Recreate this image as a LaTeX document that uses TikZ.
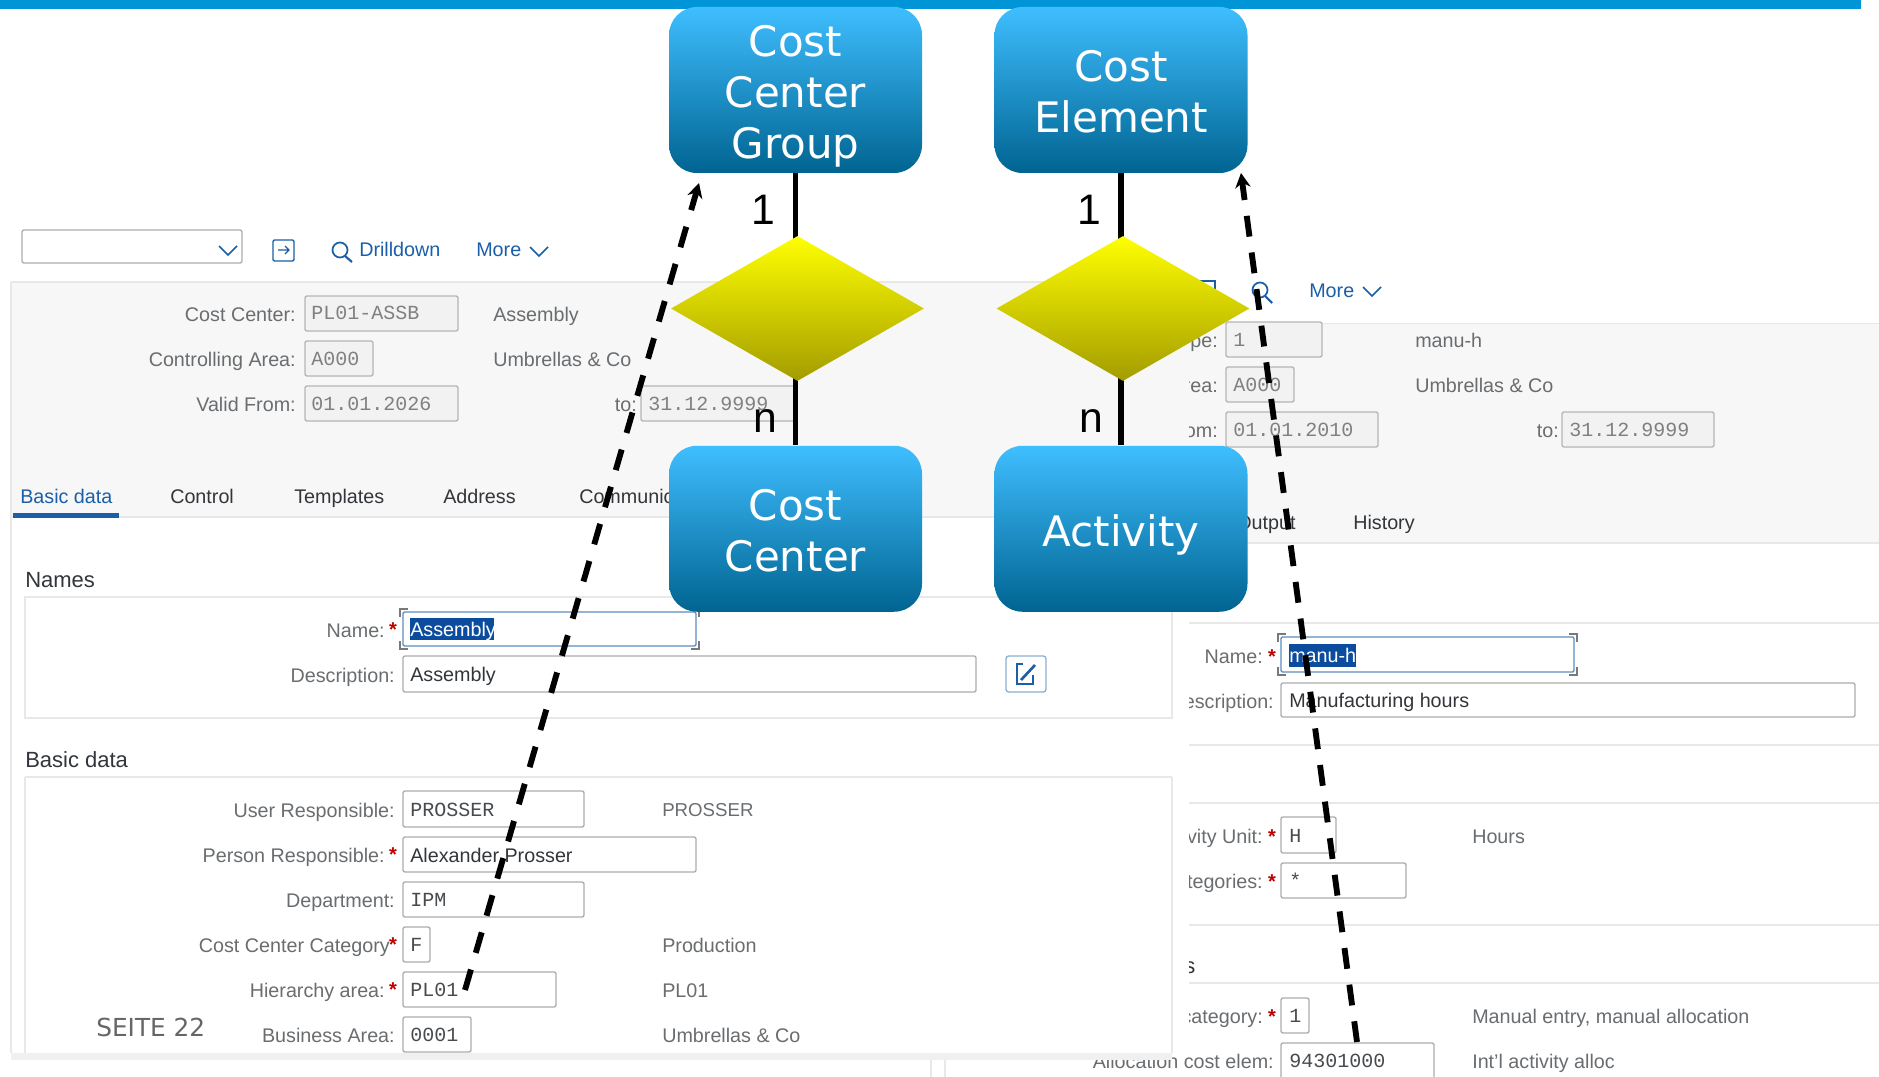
\documentclass[tikz,border=0pt]{standalone}
\usepackage{fontspec}
\setmainfont{Liberation Sans}
\setmonofont{Liberation Mono}
\newfontfamily\boxfont{DejaVu Sans}
\usetikzlibrary{shapes.geometric,arrows.meta}
\newlength\px \setlength\px{0.75pt}
\newcounter{nn}
\definecolor{labc}{HTML}{6A6D70}
\definecolor{darkc}{HTML}{32363A}
\definecolor{monoc}{HTML}{808080}
\definecolor{monod}{HTML}{484B4E}
\definecolor{linkc}{HTML}{1B5FA8}
\definecolor{bandc}{HTML}{F7F7F7}
\definecolor{rulec}{HTML}{E8E8E8}
\definecolor{fieldc}{HTML}{ADADAD}
\definecolor{barc}{HTML}{0095D6}
\definecolor{selc}{HTML}{0B4C9E}
\definecolor{focc}{HTML}{5B8DBF}
\tikzset{
  sap/.style={font=\fontsize{14.8}{18}\selectfont,inner sep=0pt},
  lab/.style={sap,text=labc},
  val/.style={sap,text=darkc},
  mono/.style={inner sep=0pt,font=\ttfamily\fontsize{15}{18}\selectfont,text=monod},
  romono/.style={mono,text=monoc},
  head/.style={inner sep=0pt,font=\fontsize{16.5}{20}\selectfont,text=darkc},
  link/.style={sap,text=linkc},
  star/.style={inner sep=0pt,font=\bfseries\fontsize{15}{18}\selectfont,text=red!75!black},
  wfield/.style={draw=fieldc,fill=white,line width=1pt,rounded corners=1.5pt},
  rofield/.style={draw=fieldc!90,fill=black!5,line width=1pt,rounded corners=1.5pt},
  focfield/.style={draw=focc,fill=white,line width=1.1pt,rounded corners=1pt},
  panel/.style={draw=rulec,line width=0.9pt},
  rulel/.style={draw=rulec,line width=0.9pt},
  ent/.style={rounded corners=28\px,minimum width=253\px,minimum height=166\px,inner sep=0pt,
    align=center,text=white,font=\boxfont\fontsize{31.5}{38.2}\selectfont,
    top color=entt,middle color=entm,bottom color=entb,shading angle=0},
  rel/.style={diamond,minimum width=253\px,minimum height=145\px,inner sep=0pt,
    top color=relt,middle color=relm,bottom color=relb},
  card/.style={inner sep=0pt,text=black,font=\fontsize{32}{38}\selectfont},
  conn/.style={line width=4.3pt,draw=black},
  dep/.style={line width=4.4pt,draw=black,-{Stealth[length=11pt,width=11.5pt]}},
  icon/.style={draw=linkc,line width=1pt},
}
\definecolor{entt}{HTML}{3FBEFF}
\definecolor{entm}{HTML}{009CDE}
\definecolor{entb}{HTML}{006491}
\definecolor{relt}{HTML}{FFFF00}
\definecolor{relm}{HTML}{E9E900}
\definecolor{relb}{HTML}{A39C00}
\newcommand{\FDY}{7}
\newcommand{\FL}[3]{\stepcounter{nn}\node[lab,anchor=base east] (n\thenn) at (#1,{#2+\FDY}) {#3};}
\newcommand{\FT}[4][lab]{\stepcounter{nn}\node[#1,anchor=base west] (n\thenn) at (#2,{#3+\FDY}) {#4};}
\newcommand{\FS}[2]{\stepcounter{nn}\node[star,anchor=base] (n\thenn) at (#1,{#2+6}) {*};}
\newcommand{\FB}[5][wfield]{\draw[#1] (#2,#3) rectangle (#4,#5);}
\newcommand{\CHEV}[3][linkc]{\draw[#1,line width=1.1pt] ({#2-9},{#3-4}) -- (#2,{#3+5}) -- ({#2+9},{#3-4});}
\newcommand{\BRK}[4]{\draw[fieldc!70!black,line width=0.8pt]
  ({#1-3},{#2+5}) -- ({#1-3},{#2-3}) -- ({#1+5},{#2-3})
  ({#3-5},{#2-3}) -- ({#3+3},{#2-3}) -- ({#3+3},{#2+5})
  ({#1-3},{#4-5}) -- ({#1-3},{#4+3}) -- ({#1+5},{#4+3})
  ({#3-5},{#4+3}) -- ({#3+3},{#4+3}) -- ({#3+3},{#4-5});}
\newcommand{\TOPL}{\rule{0pt}{26pt}}
\newcommand{\NODESC}[1]{\raisebox{0pt}[\height][0pt]{#1}}
\begin{document}
\begin{tikzpicture}[x=0.75pt,y=-0.75pt]
\useasboundingbox (0,0) rectangle (1879,1077);
\fill[white] (0,0) rectangle (1879,1077);
\fill[barc] (0,0) rectangle (1861,9.5);
% ---- right screenshot
\fill[bandc] (1187,323.5) rectangle (1879,543);
\draw[rulel] (1187,323.5) -- (1879,323.5);
\draw[rulel] (1187,543) -- (1879,543);
\draw[rulel] (945,1060) -- (945,1077);
\draw[rulel] (931,1060) -- (931,1077);
\draw[icon] (1199,281) rectangle (1215,300);
\draw[icon,line width=1.3pt] (1260,290) circle (7.5);
\draw[icon,line width=1.6pt] (1265,296) -- (1272,303);
\FT[link]{1309}{290}{More}
\CHEV{1372}{291}
\renewcommand{\FDY}{6}
\begin{scope}
\clip (1189,300) rectangle (1879,1040);
\FB[rofield]{1226}{322}{1322}{357}
\FL{1218}{341}{pe:}
\FT[romono]{1233}{340}{1}
\FT{1415}{341}{manu-h}
\FB[rofield]{1226}{367}{1294}{402}
\FL{1218}{386}{rea:}
\FT[romono]{1233}{385}{A000}
\FT{1415}{386}{Umbrellas \& Co}
\FB[rofield]{1226}{412}{1378}{447}
\FL{1218}{431}{rom:}
\FT[romono]{1233}{430}{01.01.2010}
\FL{1559}{431}{to:}
\FB[rofield]{1562}{412}{1714}{447}
\FT[romono]{1569}{430}{31.12.9999}
\FT[val]{1236}{523}{Output}
\FT[val]{1353}{523}{History}
\draw[rulel] (1189,623) -- (1879,623);
\FB[focfield]{1281}{637}{1574}{672}
\BRK{1281}{637}{1574}{672}
\fill[selc] (1289,644) rectangle (1356,667);
\FT[sap,text=white]{1289}{656}{manu-h}
\FL{1263}{657}{Name:}
\FS{1272}{657}
\FL{1274}{702}{Description:}
\FB{1281}{683}{1855}{717}
\FT[val]{1289}{701}{Manufacturing hours}
\draw[rulel] (1189,745) -- (1879,745);
\draw[rulel] (1189,803) -- (1879,803);
\FL{1263}{837}{ivity Unit:}
\FS{1272}{837}
\FB{1281}{817}{1336}{853}
\FT[mono]{1289}{836}{H}
\FT{1472}{837}{Hours}
\FL{1263}{882}{tegories:}
\FS{1272}{882}
\FB{1281}{863}{1406}{898}
\FT[mono]{1289}{881}{*}
\draw[rulel] (1189,925) -- (1879,925);
\FT[head]{1184}{967}{s}
\draw[rulel] (1189,983) -- (1879,983);
\FL{1263}{1017}{category:}
\FS{1272}{1017}
\FB{1281}{998}{1309}{1033}
\FT[mono]{1289}{1016}{1}
\FT{1472}{1017}{Manual entry, manual allocation}
\end{scope}
\FL{1274}{1062}{Allocation cost elem:}
\FB{1281}{1043}{1434}{1085}
\FT[mono]{1289}{1061}{94301000}
\FT{1472}{1062}{Int'l activity alloc}
% ---- left screenshot
\renewcommand{\FDY}{7}
\fill[bandc] (11,282) rectangle (1187,517);
\draw[rulel] (11,282) -- (1187,282);
\draw[rulel] (11,517) -- (1187,517);
\draw[rulel] (11,282) -- (11,1053);
\fill[black!6] (11,1053) rectangle (1172,1060);
\FB{22}{230}{242}{263}
\CHEV{228}{250}
\draw[icon,rounded corners=1pt] (273,240) rectangle (294,261);
\draw[icon] (278,250) -- (289,250) (285,246) -- (289,250) -- (285,254);
\draw[icon,line width=1.3pt] (340,250) circle (7.5);
\draw[icon,line width=1.6pt] (345,256) -- (352,262);
\FT[link]{359}{250}{Drilldown}
\FT[link]{476}{250}{More}
\CHEV{539}{251}
\FL{296}{314}{Cost Center:}
\FB[rofield]{305}{296}{458}{331}
\FT[romono]{311}{313}{PL01-ASSB}
\FT{493}{314}{Assembly}
\FL{296}{359}{Controlling Area:}
\FB[rofield]{305}{341}{373}{376}
\FT[romono]{311}{358}{A000}
\FT{493}{359}{Umbrellas \& Co}
\FL{296}{404}{Valid From:}
\FB[rofield]{305}{386}{458}{421}
\FT[romono]{311}{403}{01.01.2026}
\FL{637}{404}{to:}
\FB[rofield]{641}{386}{795}{421}
\FT[romono]{648}{403}{31.12.9999}
\FT[link]{20}{496}{Basic data}
\FT[val]{170}{496}{Control}
\FT[val]{294}{496}{Templates}
\FT[val]{443}{496}{Address}
\FT[val]{579}{496}{Communic}
\fill[linkc] (12.5,513) rectangle (118.5,518);
\FT[head]{25}{580}{Names}
\draw[panel] (25,597) rectangle (1172,718);
\FL{385}{630}{Name:}
\FS{393}{630}
\FB[focfield]{403}{612}{696}{646}
\BRK{403}{612}{696}{646}
\fill[selc] (410,618) rectangle (494,640);
\FT[sap,text=white]{410}{629}{Assembly}
\FL{395}{675}{Description:}
\FB{403}{656}{976}{692}
\FT[val]{410}{674}{Assembly}
\draw[draw=focc!70,line width=1pt,rounded corners=2pt] (1006,656) rectangle (1046,692);
\draw[icon,line width=1.2pt] (1023,664) -- (1017,664) -- (1017,684) -- (1033,684) -- (1033,675);
\draw[icon,line width=2pt] (1021,680) -- (1035,665);
\FT[head]{25}{760}{Basic data}
\draw[panel] (25,777) -- (1172,777) (25,777) -- (25,1053) (1172,777) -- (1172,1053);
\FL{395}{810}{User Responsible:}
\FB{403}{791}{584}{827}
\FT[mono]{410}{809}{PROSSER}
\stepcounter{nn}\node[lab,font=\fontsize{14}{18}\selectfont,anchor=base west] (n\thenn) at (662,816) {PROSSER};
\FL{385}{855}{Person Responsible:}
\FS{393}{855}
\FB{403}{837}{696}{872}
\FT[val]{410}{855}{Alexander Prosser}
\FL{395}{900}{Department:}
\FB{403}{882}{584}{917}
\FT[mono]{410}{899}{IPM}
\FL{390}{945}{Cost Center Category}
\FS{393}{945}
\FB{403}{927}{430}{962}
\FT[mono]{410}{944}{F}
\FT{662}{945}{Production}
\FL{385}{990}{Hierarchy area:}
\FS{393}{990}
\FB{403}{972}{556}{1007}
\FT[mono]{410}{989}{PL01}
\FT{662}{990}{PL01}
\FL{395}{1035}{Business Area:}
\FB{403}{1017}{471}{1052}
\FT[mono]{410}{1034}{0001}
\FT{662}{1035}{Umbrellas \& Co}
\node[inner sep=0pt,anchor=base west,text=black!60,font=\boxfont\fontsize{18.6}{22}\selectfont] (seite) at (96,1036) {SEITE 22};
% ---- ER diagram
\node[ent] (ccg) at (795.5,90) {\TOPL Cost\\Center\\\NODESC{Group}};
\node[ent] (cel) at (1121,90) {\TOPL Cost\\Element};
\node[ent] (cct) at (795.5,528.75) {\TOPL Cost\\Center};
\node[ent] (act) at (1121,528.75) {\TOPL\NODESC{Activity}};
\coordinate (r1) at (797.5,308.5);
\coordinate (r2) at (1123,308.5);
\draw[conn] (ccg.south) -- (ccg.south |- r1);
\draw[conn] (cel.south) -- (cel.south |- r2);
\draw[conn] (cct.north |- r1) -- (cct.north);
\draw[conn] (act.north |- r2) -- (act.north);
\node[rel] (rel1) at (r1) {};
\node[rel] (rel2) at (r2) {};
\node[card,anchor=base] (c1) at (763,224) {1};
\node[card,anchor=base] (c2) at (1089,224) {1};
\node[card,anchor=base] (c3) at (765,432) {n};
\node[card,anchor=base] (c4) at (1091,432) {n};
\coordinate (a1s) at (465,990);
\coordinate (a1e) at (699,183);
\coordinate (a2s) at (1357,1042);
\coordinate (a2e) at (1241,173);
\draw[dep,dash pattern=on 16pt off 13pt] (a1s) -- (a1e);
\draw[dep,dash pattern=on 15.7pt off 12pt] (a2s) -- (a2e);
\end{tikzpicture}
\end{document}
